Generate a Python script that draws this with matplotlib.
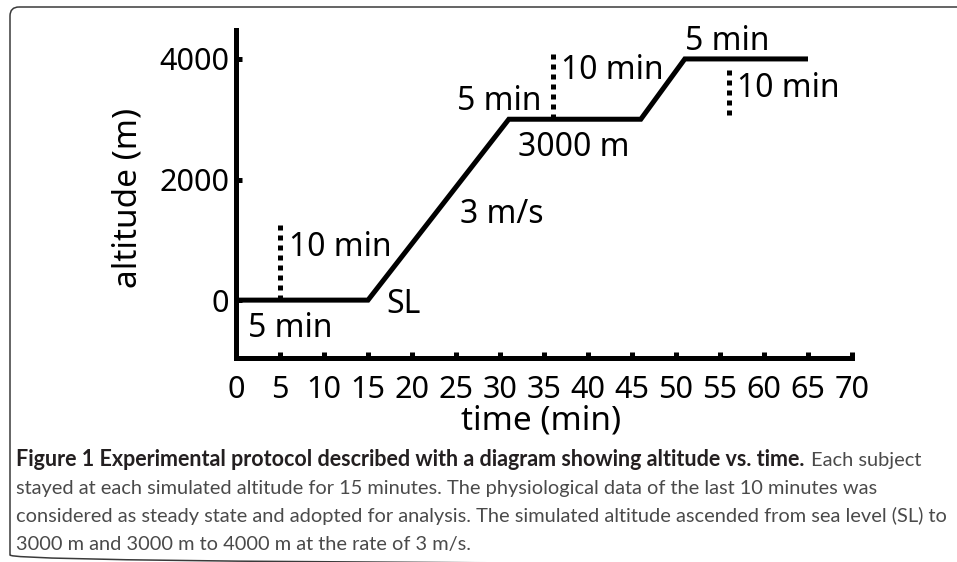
import matplotlib
matplotlib.use('Agg')
import matplotlib.pyplot as plt
from matplotlib.patches import FancyBboxPatch
from matplotlib.font_manager import FontProperties

# ---------------- data ----------------
time_min = [0, 15, 31, 46, 51, 65]
altitude_m = [0, 0, 3000, 3000, 4000, 4000]

# dotted markers: time, lower altitude, upper altitude
marker_time = [5, 36, 56]
marker_low = [0, 3000, 3070]
marker_high = [1245, 4160, 3885]

ann_text = ["10 min", "SL", "5 min", "3 m/s", "5 min", "10 min", "3000 m", "5 min", "10 min"]
ann_t = [6.0, 17.1, 1.4, 25.5, 25.1, 36.9, 32.0, 51.0, 56.9]
ann_alt = [730, -216, -614, 1283, 3154, 3668, 2395, 4149, 3375]

xticks = list(range(0, 75, 5))
yticks = [0, 2000, 4000]
xlabel = "time (min)"
ylabel = "altitude (m)"

caption_bold = "Figure 1 Experimental protocol described with a diagram showing altitude vs. time."
caption_rest = "Each subject"
caption_lines = [
    "stayed at each simulated altitude for 15 minutes. The physiological data of the last 10 minutes was",
    "considered as steady state and adopted for analysis. The simulated altitude ascended from sea level (SL) to",
    "3000 m and 3000 m to 4000 m at the rate of 3 m/s.",
]

# ---------------- figure ----------------
FONT = ['Noto Sans', 'DejaVu Sans']
CAP_FONT = ['Lato', 'Noto Sans', 'DejaVu Sans']
plt.rcParams['font.family'] = FONT

W, H = 957, 562
fig = plt.figure(figsize=(W / 100, H / 100), dpi=100)

bg = fig.add_axes([0, 0, 1, 1], zorder=0)
bg.set_xlim(0, W)
bg.set_ylim(H, 0)
bg.axis('off')
frame = FancyBboxPatch((10, 7), 1200, 557, boxstyle='round,pad=0,rounding_size=9',
                       fill=False, ec='#3a3a3a', lw=1.1)
bg.add_patch(frame)

ax_l, ax_r, ax_t, ax_b = 236, 852, 30, 358
ax = fig.add_axes([ax_l / W, 1 - ax_b / H, (ax_r - ax_l) / W, (ax_b - ax_t) / H], zorder=1)
ax.patch.set_alpha(0)
ax.set_xlim(0, 70)
ax.set_ylim(-960, 4480)

LW = 3.6
ax.plot(time_min, altitude_m, color='k', lw=LW, solid_joinstyle='miter',
        solid_capstyle='butt', clip_on=False)
for t, lo, hi in zip(marker_time, marker_low, marker_high):
    ax.plot([t, t], [lo, hi], color='k', lw=LW, linestyle=(0, (1, 1)),
            dash_capstyle='butt', clip_on=False)

for s, t, a in zip(ann_text, ann_t, ann_alt):
    ax.text(t, a, s, fontproperties=FontProperties(family=list(FONT), size=23),
            ha='left', va='baseline', color='k')

for side in ['top', 'right']:
    ax.spines[side].set_visible(False)
for side in ['left', 'bottom']:
    ax.spines[side].set_linewidth(LW)
    ax.spines[side].set_capstyle('projecting')

ax.set_xticks(xticks)
ax.set_yticks(yticks)
ax.set_xticklabels([str(v) for v in xticks],
                   fontproperties=FontProperties(family=list(FONT), size=22))
ax.set_yticklabels([str(v) for v in yticks],
                   fontproperties=FontProperties(family=list(FONT), size=22))
ax.tick_params(direction='in', length=4, width=LW, colors='k')
ax.tick_params(axis='x', pad=12.5)
ax.tick_params(axis='y', pad=5)

ax.set_xlabel(xlabel, fontproperties=FontProperties(family=list(FONT), size=24))
ax.xaxis.label.set_verticalalignment('center')
ax.xaxis.set_label_coords(0.495, (ax_b - 421) / (ax_b - ax_t))
ax.set_ylabel(ylabel, fontproperties=FontProperties(family=list(FONT), size=24))
ax.yaxis.label.set_verticalalignment('center')
ax.yaxis.set_label_coords((128 - ax_l) / (ax_r - ax_l), (ax_b - 198) / (ax_b - ax_t))

# ---------------- caption ----------------
renderer = fig.canvas.get_renderer()
cap_x = 16
baselines = [466, 494, 522, 550]


def fit_size(text, target_px, weight='normal', base=12.0):
    probe = fig.text(0, 0, text, fontproperties=FontProperties(
        family=list(CAP_FONT), size=base, weight=weight))
    w = probe.get_window_extent(renderer).width
    probe.remove()
    return base * target_px / w


cap_size = fit_size(caption_lines[1], 930)
bold_size = fit_size(caption_bold, 786, weight='bold')

tb = fig.text(cap_x / W, 1 - baselines[0] / H, caption_bold,
              fontproperties=FontProperties(family=list(CAP_FONT), size=bold_size, weight='bold'),
              color='#231f20', ha='left', va='baseline')
bb = tb.get_window_extent(renderer)
space = cap_size * 100 / 72 * 0.35
fig.text((bb.x1 + space) / W, 1 - baselines[0] / H, caption_rest,
         fontproperties=FontProperties(family=list(CAP_FONT), size=cap_size),
         color='#4a4a4a', ha='left', va='baseline')
for line, yb in zip(caption_lines, baselines[1:]):
    fig.text(cap_x / W, 1 - yb / H, line,
             fontproperties=FontProperties(family=list(CAP_FONT), size=cap_size),
             color='#4a4a4a', ha='left', va='baseline')

fig.savefig('out.png', dpi=100)
